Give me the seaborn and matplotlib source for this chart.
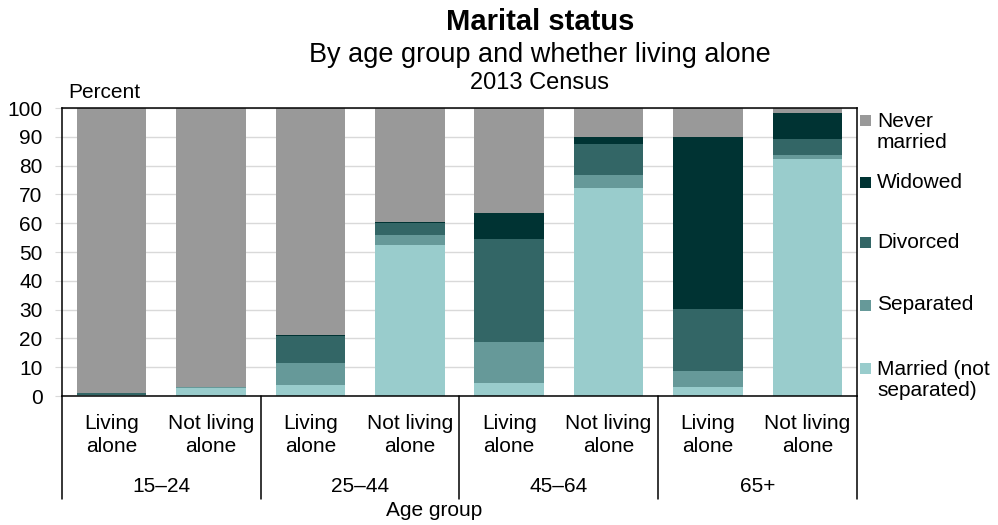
import matplotlib
matplotlib.use("Agg")
import matplotlib.pyplot as plt
import matplotlib.transforms as mtransforms
from matplotlib.patches import Rectangle
import seaborn as sns
import pandas as pd
import numpy as np

# chart data (percent of each bar)
age_groups = ["15–24", "25–44", "45–64", "65+"]
living = ["Living\nalone", "Not living\nalone"]
statuses = ["Married (not\nseparated)", "Separated", "Divorced", "Widowed", "Never\nmarried"]
married = [0.2, 2.9, 3.9, 52.6, 4.4, 72.3, 3.1, 82.4]
separated = [0.3, 0.1, 7.7, 3.3, 14.3, 4.4, 5.6, 1.4]
divorced = [0.6, 0.1, 9.3, 4.1, 35.9, 10.9, 21.5, 5.4]
widowed = [0.1, 0.0, 0.3, 0.3, 9.0, 2.2, 59.9, 8.9]
never_married = [98.8, 96.9, 78.8, 39.7, 36.4, 10.2, 9.9, 1.9]
colors = ["#99CCCC", "#669999", "#336666", "#003333", "#999999"]

W, H = 998, 525
sns.set_style("white")
plt.rcParams["font.family"] = ["Liberation Sans", "DejaVu Sans"]
plt.rcParams["font.size"] = 15
plt.rcParams["text.color"] = "black"
plt.rcParams["ytick.labelcolor"] = "black"

fig = plt.figure(figsize=(W / 100, H / 100), dpi=100)
ax_left, ax_right, ax_top, ax_bot = 62, 857, 108, 396
ax = fig.add_axes([ax_left / W, 1 - ax_bot / H, (ax_right - ax_left) / W, (ax_bot - ax_top) / H])

bar_ids = [f"{g}|{l}" for g in age_groups for l in living]
layers = np.array([married, separated, divorced, widowed, never_married])
cum = np.cumsum(layers, axis=0)

# draw from the top layer down so lower segments overlay the upper ones
for i in range(len(statuses) - 1, -1, -1):
    df = pd.DataFrame({"bar": bar_ids, "value": cum[i]})
    sns.barplot(data=df, x="bar", y="value", order=bar_ids, color=colors[i],
                saturation=1, width=0.7, linewidth=0, errorbar=None, ax=ax, zorder=2)

ax.set_xlim(-0.5, len(bar_ids) - 0.5)
ax.set_ylim(0, 100)
ax.set_yticks(range(0, 101, 10))
ax.yaxis.grid(True, color="#D9D9D9", linewidth=1.0, zorder=0)
ax.set_axisbelow(True)
ax.set_xticks([])
ax.set_xlabel("")
ax.set_ylabel("")
ax.tick_params(axis="y", left=True, length=5, color="#D9D9D9", labelsize=15, pad=9, labelcolor="black")
for s in ax.spines.values():
    s.set_color("black")
    s.set_linewidth(1.1)

# multi-level category axis
trans = mtransforms.blended_transform_factory(ax.transData, fig.transFigure)
def fy(px):
    return 1 - px / H

for k in range(len(age_groups) + 1):
    xb = -0.5 + 2 * k
    ax.plot([xb, xb], [fy(ax_bot), fy(499)], color="black", lw=1.1, transform=trans, clip_on=False)
for j, bid in enumerate(bar_ids):
    ax.text(j, fy(435), living[j % 2], transform=trans, ha="center", va="center", fontsize=15, linespacing=1.25)
for k, g in enumerate(age_groups):
    ax.text(2 * k + 0.5, fy(486), g, transform=trans, ha="center", va="center", fontsize=15)
fig.text(434 / W, fy(511), "Age group", ha="center", va="center", fontsize=15)

# titles
cx = 540 / W
fig.text(cx, fy(30), "Marital status", ha="center", va="baseline", fontsize=21, fontweight="bold")
fig.text(cx, fy(62), "By age group and whether living alone", ha="center", va="baseline", fontsize=19.5)
fig.text(cx, fy(89), "2013 Census", ha="center", va="baseline", fontsize=17)
fig.text(68 / W, fy(98), "Percent", ha="left", va="baseline", fontsize=15)

# legend
legend_rows = [(4, 120, 132), (3, 182, 182), (2, 242, 242), (1, 305, 305), (0, 368, 380)]
for idx, sq_y, txt_y in legend_rows:
    fig.patches.append(Rectangle((860 / W, fy(sq_y + 5.5)), 11 / W, 11 / H, transform=fig.transFigure,
                                 facecolor=colors[idx], edgecolor="none"))
    fig.text(877 / W, fy(txt_y), statuses[idx], ha="left", va="center", fontsize=15, linespacing=1.15)

fig.savefig("out.png", dpi=100)
